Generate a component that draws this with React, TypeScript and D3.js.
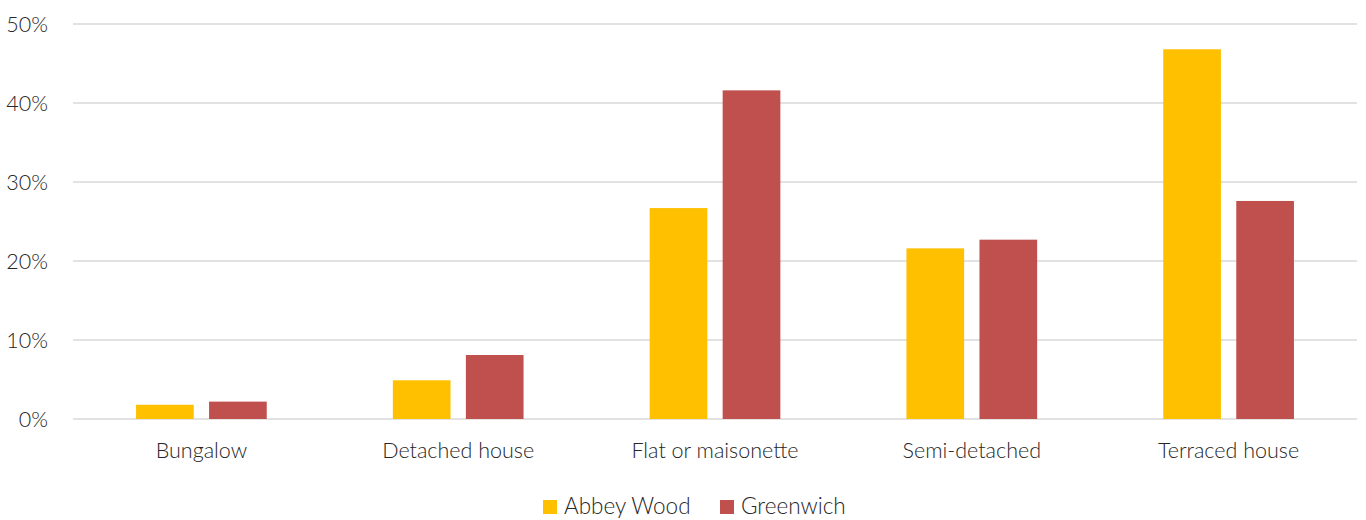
import React from "react";
import * as d3 from "d3";

const categories = ["Bungalow", "Detached house", "Flat or maisonette", "Semi-detached", "Terraced house"];
const seriesNames = ["Abbey Wood", "Greenwich"];
const abbeyWood = [1.8, 4.9, 26.7, 21.6, 46.8];
const greenwich = [2.2, 8.1, 41.6, 22.7, 27.6];
const yTicks = [0, 10, 20, 30, 40, 50];
const colors = ["#FFC000", "#C0504D"];

const W = 1366;
const H = 520;
const left = 73;
const right = 1357;
const top = 24;
const bottom = 419;
const FONT = "Lato, 'Open Sans', sans-serif";
const TEXT = "#262626";

export default function App() {
  const x0 = d3.scaleBand<string>().domain(categories).range([left, right]).padding(0);
  const groupW = 130.7;
  const x1 = d3.scaleBand<string>().domain(seriesNames).range([-groupW / 2, groupW / 2]).paddingInner(0.21).paddingOuter(0);
  const y = d3.scaleLinear().domain([0, 50]).range([bottom, top]);
  const series = [abbeyWood, greenwich];

  const legendItems = [
    { name: seriesNames[0], x: 543 },
    { name: seriesNames[1], x: 720 },
  ];

  return (
    <svg width={W} height={H} style={{ position: "absolute", left: 0, top: 0, background: "#fff" }}>
      {yTicks.map((t) => (
        <g key={t}>
          <line x1={left} x2={right} y1={y(t)} y2={y(t)} stroke="#D9D9D9" strokeWidth={1.3} />
          <text x={48} y={y(t)} dy="0.35em" textAnchor="end" fontFamily={FONT} fontWeight={300} fontSize={21.5} fill={TEXT}>
            {t}%
          </text>
        </g>
      ))}
      {categories.map((c, i) => {
        const cx = (x0(c) as number) + x0.bandwidth() / 2;
        return (
          <g key={c}>
            {series.map((s, j) => (
              <rect
                key={j}
                x={cx + (x1(seriesNames[j]) as number)}
                y={y(s[i])}
                width={x1.bandwidth()}
                height={y(0) - y(s[i])}
                fill={colors[j]}
              />
            ))}
            <text x={cx} y={458} textAnchor="middle" fontFamily={FONT} fontWeight={300} fontSize={21.5} fill={TEXT}>
              {c}
            </text>
          </g>
        );
      })}
      {legendItems.map((l, j) => (
        <g key={l.name}>
          <rect x={l.x} y={500} width={14} height={14} fill={colors[j]} />
          <text x={l.x + 21} y={514} fontFamily={FONT} fontWeight={300} fontSize={22.5} fill={TEXT}>
            {l.name}
          </text>
        </g>
      ))}
    </svg>
  );
}
